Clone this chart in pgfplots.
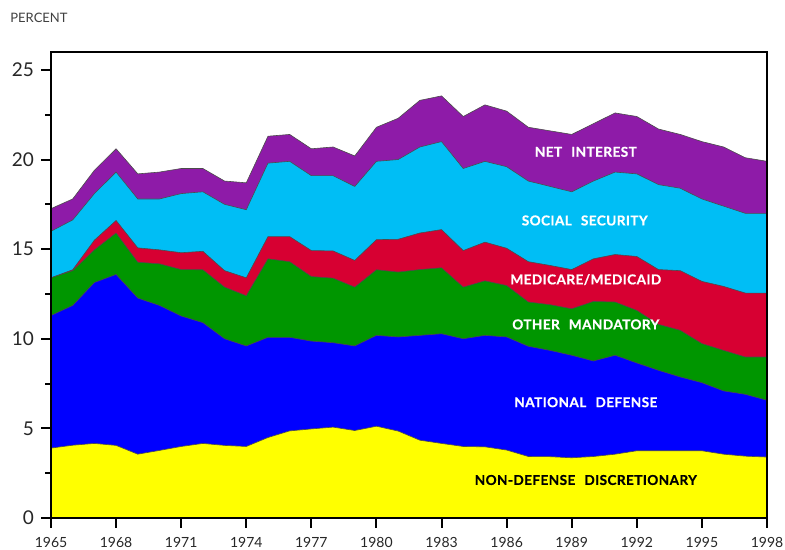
\documentclass[border=0pt]{standalone}
\usepackage{fontspec}
\setmainfont{Lato}
\newfontfamily\lblfont[LetterSpace=3,BoldFeatures={FakeBold=0.6}]{Lato}
\usepackage{pgfplots}
\usepackage{pgfplotstable}
\pgfplotsset{compat=1.18}
\definecolor{cyel}{RGB}{255,255,0}
\definecolor{cblu}{RGB}{0,0,255}
\definecolor{cgrn}{RGB}{0,150,0}
\definecolor{cred}{RGB}{215,0,50}
\definecolor{ccya}{RGB}{0,190,245}
\definecolor{cpur}{RGB}{142,27,168}
% cumulative boundaries: Y=non-defense, B=+defense, G=+other mandatory, R=+medicare, C=+social security, T=+net interest
\pgfplotstableread{
year Y B G R C T
1965 3.90 11.30 13.40 13.40 16.00 17.26
1966 4.06 11.86 13.80 13.85 16.63 17.80
1967 4.16 13.14 14.96 15.50 18.10 19.40
1968 4.05 13.59 15.90 16.60 19.30 20.60
1969 3.56 12.27 14.27 15.07 17.80 19.20
1970 3.77 11.86 14.18 14.96 17.80 19.30
1971 3.99 11.27 13.86 14.80 18.10 19.50
1972 4.16 10.90 13.85 14.88 18.20 19.50
1973 4.05 10.00 12.88 13.80 17.50 18.80
1974 3.99 9.60 12.40 13.40 17.20 18.70
1975 4.49 10.08 14.46 15.70 19.80 21.30
1976 4.86 10.08 14.30 15.70 19.90 21.40
1977 4.97 9.87 13.47 14.92 19.10 20.60
1978 5.07 9.78 13.38 14.90 19.10 20.70
1979 4.88 9.60 12.88 14.37 18.50 20.20
1980 5.12 10.19 13.85 15.53 19.90 21.80
1981 4.85 10.10 13.72 15.55 20.00 22.30
1982 4.34 10.19 13.86 15.90 20.70 23.30
1983 4.16 10.28 13.96 16.09 21.00 23.55
1984 3.99 10.00 12.88 14.92 19.50 22.40
1985 3.97 10.19 13.23 15.39 19.90 23.05
1986 3.79 10.10 12.97 15.05 19.60 22.70
1987 3.43 9.58 12.05 14.30 18.80 21.80
1988 3.42 9.35 11.90 14.09 18.50 21.60
1989 3.36 9.08 11.67 13.86 18.20 21.40
1990 3.43 8.76 12.08 14.46 18.80 22.00
1991 3.56 9.08 12.05 14.70 19.30 22.60
1992 3.75 8.65 11.58 14.59 19.20 22.40
1993 3.75 8.24 10.80 13.86 18.60 21.70
1994 3.75 7.87 10.47 13.80 18.40 21.40
1995 3.75 7.55 9.73 13.20 17.80 21.00
1996 3.56 7.09 9.35 12.92 17.40 20.70
1997 3.45 6.90 8.98 12.55 17.00 20.10
1998 3.40 6.57 8.98 12.55 17.00 19.90
}\data
\begin{document}
\begin{tikzpicture}
\useasboundingbox (-25.5pt,-16pt) rectangle (367pt,259pt);
\begin{axis}[
  at={(0,0)}, anchor=south west,
  scale only axis, width=358pt, height=233pt,
  xmin=1965, xmax=1998, ymin=0, ymax=26,
  xtick={1965,1968,...,1998},
  ytick={0,5,...,25},
  minor ytick={2.5,7.5,...,22.5},
  tick align=outside, xtick pos=bottom, ytick pos=left,
  major tick length=5pt, minor tick length=3pt,
  every tick/.style={black, line width=1pt},
  axis line style={line width=1pt},
  /pgf/number format/assume math mode=true,
  /pgf/number format/1000 sep={},
  xticklabel style={font=\fontsize{7}{8}\selectfont, color=black!85, yshift=-1pt},
  yticklabel style={font=\fontsize{9.5}{10}\selectfont, color=black!85},
  axis on top,
  clip=true,
]
\addplot[fill=cpur, draw=black!70, line width=0.3pt] table[x=year,y=T]{\data} \closedcycle;
\addplot[fill=ccya, draw=black!70, line width=0.3pt] table[x=year,y=C]{\data} \closedcycle;
\addplot[fill=cred, draw=black!70, line width=0.3pt] table[x=year,y=R]{\data} \closedcycle;
\addplot[fill=cgrn, draw=black!70, line width=0.3pt] table[x=year,y=G]{\data} \closedcycle;
\addplot[fill=cblu, draw=black!70, line width=0.3pt] table[x=year,y=B]{\data} \closedcycle;
\addplot[fill=cyel, draw=black!70, line width=0.3pt] table[x=year,y=Y]{\data} \closedcycle;
\begin{scope}[every node/.style={font=\lblfont\bfseries\fontsize{6.8}{7}\selectfont, inner sep=0pt}]
\node[white] at (axis cs:1989.65,20.43) {NET\enspace\thinspace INTEREST};
\node[white] at (axis cs:1989.6,16.6) {SOCIAL\enspace\thinspace SECURITY};
\node[white] at (axis cs:1989.65,13.3) {MEDICARE/MEDICAID};
\node[white] at (axis cs:1989.65,10.8) {OTHER\enspace\thinspace MANDATORY};
\node[white] at (axis cs:1989.65,6.46) {NATIONAL\enspace\thinspace DEFENSE};
\node[black] at (axis cs:1989.65,2.12) {NON-DEFENSE\enspace\thinspace DISCRETIONARY};
\end{scope}
\end{axis}
\node[anchor=west, inner sep=0pt, font=\fontsize{6.5}{7}\selectfont, text=black!75] at (-20.5pt,250pt) {PERCENT};
\end{tikzpicture}
\end{document}
